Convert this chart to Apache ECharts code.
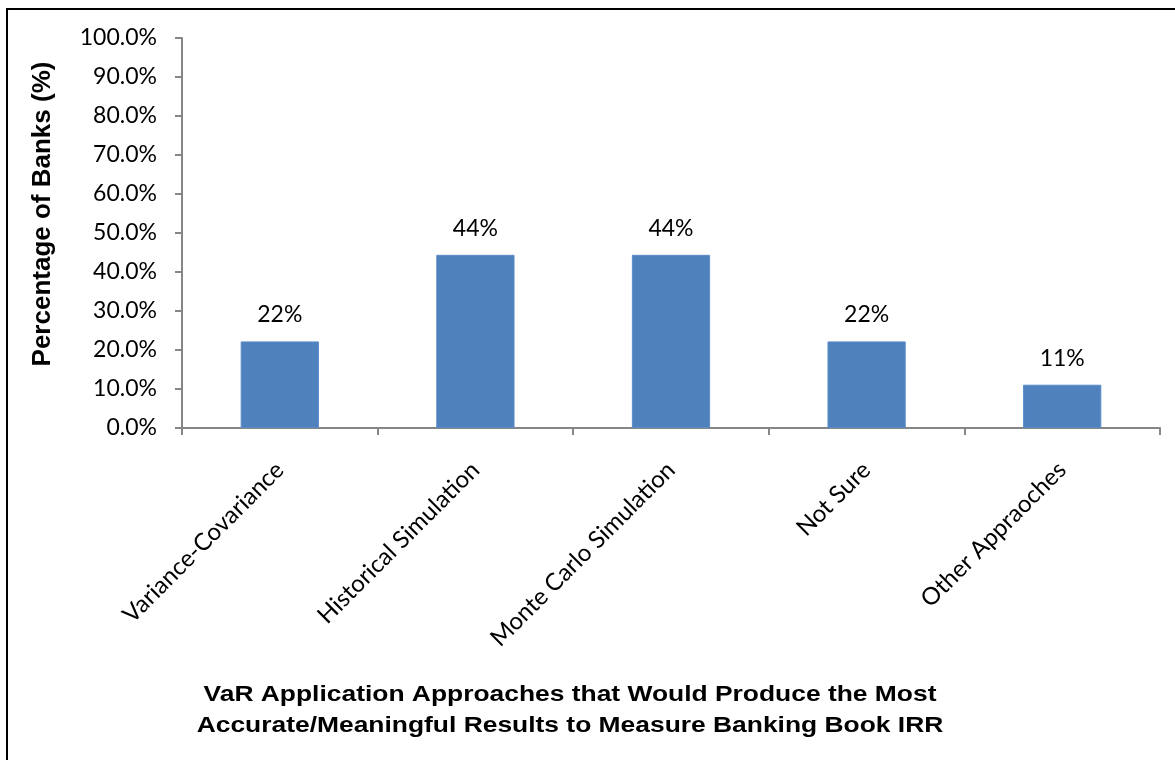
<!DOCTYPE html>
<html>
<head>
<meta charset="utf-8">
<script src="https://cdn.jsdelivr.net/npm/echarts@6/dist/echarts.min.js"></script>
<style>
  html, body { margin: 0; padding: 0; background: #fff; }
  #chart { width: 1175px; height: 760px; }
</style>
</head>
<body>
<div id="chart"></div>
<script>
// Survey results: share of banks choosing each VaR approach
const categories = [
  'Variance-Covariance',
  'Historical Simulation',
  'Monte Carlo Simulation',
  'Not Sure',
  'Other Appraoches'
];
const shares = [22.2, 44.4, 44.4, 22.2, 11.1];
const yTicks = [0, 10, 20, 30, 40, 50, 60, 70, 80, 90, 100];
const titleLines = [
  'VaR Application Approaches that Would Produce the Most',
  'Accurate/Meaningful Results to Measure Banking Book IRR'
];
const yName = 'Percentage of Banks (%)';

const axisGray = '#868686';
const bodyFont = 'Lato, "Open Sans", sans-serif';
const boldFont = '"Liberation Sans", Arial, sans-serif';

const chart = echarts.init(document.getElementById('chart'));
chart.setOption({
  animation: false,
  backgroundColor: '#ffffff',
  grid: { left: 182, right: 15, top: 38, bottom: 332, containLabel: false },
  xAxis: {
    type: 'category',
    data: categories,
    axisLine: { lineStyle: { color: axisGray, width: 2 } },
    axisTick: { show: true, length: 7, alignWithLabel: false, lineStyle: { color: axisGray, width: 2 } },
    axisLabel: {
      rotate: 45,
      margin: 38,
      color: '#000',
      fontFamily: bodyFont,
      fontSize: 24,
      interval: 0
    }
  },
  yAxis: {
    type: 'value',
    min: yTicks[0],
    max: yTicks[yTicks.length - 1],
    interval: yTicks[1] - yTicks[0],
    axisLine: { show: true, lineStyle: { color: axisGray, width: 2 } },
    axisTick: { show: true, length: 7, lineStyle: { color: axisGray, width: 2 } },
    splitLine: { show: false },
    axisLabel: {
      margin: 25,
      color: '#000',
      fontFamily: bodyFont,
      fontSize: 23,
      formatter: v => v.toFixed(1) + '%'
    }
  },
  series: [{
    type: 'bar',
    data: shares,
    barWidth: '40%',
    itemStyle: { color: '#4F81BD', borderColor: '#5B8CC8', borderWidth: 1 },
    label: {
      show: true,
      position: 'top',
      distance: 15,
      color: '#000',
      fontFamily: bodyFont,
      fontSize: 23,
      formatter: p => Math.round(p.value) + '%'
    }
  }],
  graphic: [
    // chart frame (top and left edges)
    { type: 'line', shape: { x1: 7, y1: 9, x2: 1175, y2: 9 }, style: { stroke: '#000', lineWidth: 2 } },
    { type: 'line', shape: { x1: 7, y1: 8, x2: 7, y2: 760 }, style: { stroke: '#000', lineWidth: 2 } },
    // value axis title
    {
      type: 'text',
      x: 43,
      y: 214,
      rotation: Math.PI / 2,
      style: {
        text: yName,
        textAlign: 'center',
        textVerticalAlign: 'middle',
        fill: '#000',
        font: 'bold 26px ' + boldFont
      }
    },
    // category axis title (two lines)
    {
      type: 'text',
      x: 570,
      y: 679,
      scaleX: 1.2,
      style: {
        text: titleLines.join('\n'),
        textAlign: 'center',
        fill: '#000',
        font: 'bold 22px ' + boldFont,
        lineHeight: 31
      }
    }
  ]
});
</script>
</body>
</html>
